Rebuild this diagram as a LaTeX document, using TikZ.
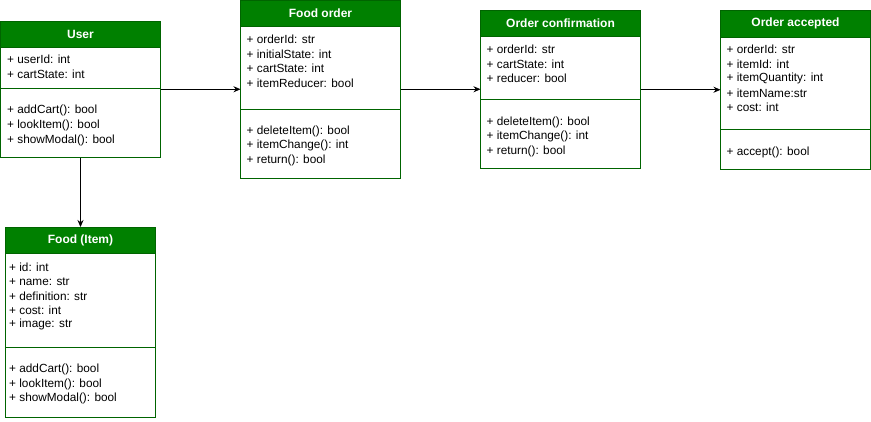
\documentclass[tikz,border=0pt]{standalone}
\usepackage{fontspec}
\setmainfont{Liberation Sans}
\usetikzlibrary{arrows.meta}
\definecolor{hdr}{RGB}{0,128,0}
\definecolor{bdr}{RGB}{0,100,0}
\begin{document}
\begin{tikzpicture}[x=1pt,y=-1pt,
  clsbox/.style={draw=bdr, fill=white, line width=0.9pt, inner sep=0pt, outer sep=0pt, anchor=north west},
  clshead/.style={draw=bdr, fill=hdr, line width=0.9pt, inner sep=0pt, outer sep=0pt, anchor=north west, text=white, font=\fontsize{12}{14}\selectfont\bfseries},
  divider/.style={draw=bdr, line width=0.9pt},
  mem/.style={anchor=west, inner sep=0pt, font=\fontsize{11.8}{14}\selectfont},
  conn/.style={draw=black, line width=0.8pt, -{Stealth[length=7pt,width=6pt]}}
]
\useasboundingbox (0,0) rectangle (871,421);

% User
\node[clsbox, minimum width=160pt, minimum height=136.5pt] (user) at (0.5,21) {};
\node[clshead, minimum width=160pt, minimum height=26pt] (userh) at (user.north west) {User};
\draw[divider] (user.west |- 0,88) -- (user.east |- 0,88);
\node[mem] (u1) at (7,59.5) {+ userId: int};
\node[mem] (u2) at (7,74.5) {+ cartState: int};
\node[mem] (u3) at (7,110) {+ addCart(): bool};
\node[mem] (u4) at (7,125) {+ lookItem(): bool};
\node[mem] (u5) at (7,140) {+ showModal(): bool};

% Food order
\node[clsbox, minimum width=160pt, minimum height=177.5pt] (fo) at (240.5,0.5) {};
\node[clshead, minimum width=160pt, minimum height=25.5pt] (foh) at (fo.north west) {Food order};
\draw[divider] (fo.west |- 0,109) -- (fo.east |- 0,109);
\node[mem] (f1) at (246.5,39.5) {+ orderId: str};
\node[mem] (f2) at (246.5,54) {+ initialState: int};
\node[mem] (f3) at (246.5,68.5) {+ cartState: int};
\node[mem] (f4) at (246.5,83) {+ itemReducer: bool};
\node[mem] (f5) at (246.5,131) {+ deleteItem(): bool};
\node[mem] (f6) at (246.5,145.5) {+ itemChange(): int};
\node[mem] (f7) at (246.5,160) {+ return(): bool};

% Order confirmation
\node[clsbox, minimum width=160pt, minimum height=157.5pt] (oc) at (480.5,10.5) {};
\node[clshead, minimum width=160pt, minimum height=26pt] (och) at (oc.north west) {Order confirmation};
\draw[divider] (oc.west |- 0,99) -- (oc.east |- 0,99);
\node[mem] (c1) at (486.5,49.5) {+ orderId: str};
\node[mem] (c2) at (486.5,64) {+ cartState: int};
\node[mem] (c3) at (486.5,78.5) {+ reducer: bool};
\node[mem] (c4) at (486.5,122) {+ deleteItem(): bool};
\node[mem] (c5) at (486.5,136.5) {+ itemChange(): int};
\node[mem] (c6) at (486.5,151) {+ return(): bool};

% Order accepted
\node[clsbox, minimum width=150pt, minimum height=158.5pt] (oa) at (720.5,10.5) {};
\node[clshead, minimum width=150pt, minimum height=26.5pt] (oah) at (oa.north west) {Order accepted};
\draw[divider] (oa.west |- 0,129) -- (oa.east |- 0,129);
\node[mem] (a1) at (726.5,49.5) {+ orderId: str};
\node[mem] (a2) at (726.5,64) {+ itemId: int};
\node[mem] (a3) at (726.5,78.5) {+ itemQuantity: int};
\node[mem] (a4) at (726.5,93) {+ itemName:str};
\node[mem] (a5) at (726.5,107.5) {+ cost: int};
\node[mem] (a6) at (726.5,152) {+ accept(): bool};

% Food (Item)
\node[clsbox, minimum width=150pt, minimum height=190pt] (fi) at (5.5,227) {};
\node[clshead, minimum width=150pt, minimum height=26pt] (fih) at (fi.north west) {Food (Item)};
\draw[divider] (fi.west |- 0,347) -- (fi.east |- 0,347);
\node[mem] (i1) at (9,267) {+ id: int};
\node[mem] (i2) at (9,281.5) {+ name: str};
\node[mem] (i3) at (9,296) {+ definition: str};
\node[mem] (i4) at (9,310) {+ cost: int};
\node[mem] (i5) at (9,324.5) {+ image: str};
\node[mem] (i6) at (9,369.5) {+ addCart(): bool};
\node[mem] (i7) at (9,384) {+ lookItem(): bool};
\node[mem] (i8) at (9,398.5) {+ showModal(): bool};

% connectors
\draw[conn] (user.east) -- (fo.west);
\draw[conn] (fo.east) -- (oc.west);
\coordinate (jog) at (680.5,89.25);
\draw[conn] (oc.east) -- (jog) |- (oa.west);
\draw[conn] (user.south) -- (fih.north);
\end{tikzpicture}
\end{document}
